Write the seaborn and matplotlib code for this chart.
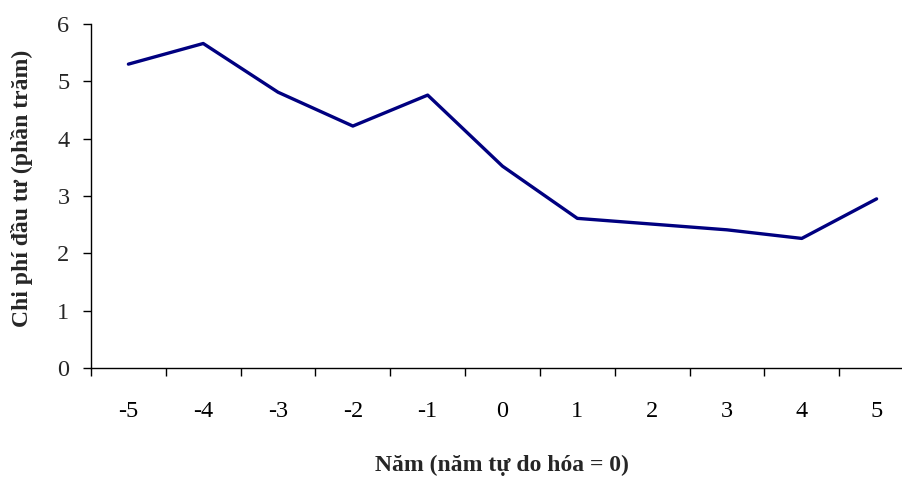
import matplotlib
matplotlib.use("Agg")
import matplotlib.pyplot as plt
import seaborn as sns
import pandas as pd
import numpy as np

years = [-5, -4, -3, -2, -1, 0, 1, 2, 3, 4, 5]
cost = [5.30, 5.66, 4.81, 4.22, 4.76, 3.52, 2.61, 2.51, 2.41, 2.26, 2.95]
yticks = [0, 1, 2, 3, 4, 5, 6]
xlabel = "Năm (năm tự do hóa = 0)"
ylabel = "Chi phí đầu tư (phần trăm)"

sns.set_theme(style="white")
plt.rcParams['font.family'] = ['Liberation Serif', 'DejaVu Serif']

df = pd.DataFrame({"year": years, "cost": cost})

fig = plt.figure(figsize=(9.03, 4.78), dpi=100)
ax = fig.add_axes([91/903, 110/478, (914-91)/903, (368-24)/478])
sns.lineplot(data=df, x="year", y="cost", ax=ax, color="#000080", linewidth=2.4)

ax.set_xlim(-5.5, 5.5)
ax.set_ylim(0, 6)
ax.set_yticks(yticks)
ax.set_yticklabels([str(v) for v in yticks], fontsize=17.5)
ax.set_xticks(years)
ax.set_xticklabels([str(v) for v in years], fontsize=17.5)
ax.set_xticks(np.arange(-5.5, 5.0, 1.0), minor=True)
ax.tick_params(axis="x", which="major", length=0, pad=24, colors="black")
ax.tick_params(axis="x", which="minor", length=5.5, width=1, color="black", bottom=True)
ax.tick_params(axis="y", which="major", length=5.5, width=1, color="black", left=True, pad=10)

for s in ["top", "right"]:
    ax.spines[s].set_visible(False)
for s in ["left", "bottom"]:
    ax.spines[s].set_color("black")
    ax.spines[s].set_linewidth(1)

ax.set_xlabel("")
ax.set_ylabel("")
fig.text(502/903, 1 - 465/478, xlabel, ha="center", va="center", fontsize=17, fontweight="bold")
fig.text(22/903, 1 - 188/478, ylabel, ha="center", va="center", rotation=90, fontsize=17, fontweight="bold")

fig.savefig("out.png", dpi=100)
